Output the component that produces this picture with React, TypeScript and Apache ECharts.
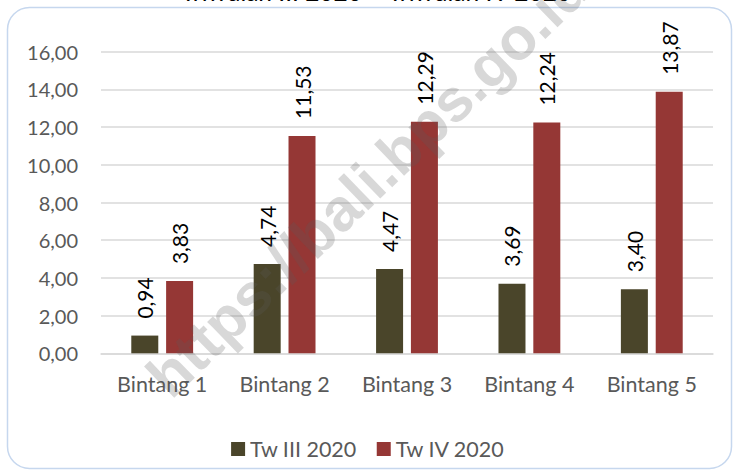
import React, { useEffect, useRef } from "react";
import * as echarts from "echarts";

const categories = ["Bintang 1", "Bintang 2", "Bintang 3", "Bintang 4", "Bintang 5"];
const seriesNames = ["Tw III 2020", "Tw IV 2020"];
const twIII = [0.94, 4.74, 4.47, 3.69, 3.4];
const twIV = [3.83, 11.53, 12.29, 12.24, 13.87];
const yMin = 0;
const yMax = 16;
const yStep = 2;
const titleText = "Triwulan III 2020 – Triwulan IV 2020";
const watermarkText = "https://bali.bps.go.id";

const fmt = (v: number) => v.toFixed(2).replace(".", ",");

export default function App() {
  const ref = useRef<HTMLDivElement>(null);
  useEffect(() => {
    if (!ref.current) return;
    const chart = echarts.init(ref.current, null, { renderer: "svg" });
    const font = "Lato, 'Open Sans', sans-serif";
    const label = {
      show: true,
      position: "top" as const,
      rotate: 90,
      align: "left" as const,
      verticalAlign: "middle" as const,
      distance: 17,
      fontSize: 21,
      fontFamily: font,
      color: "#000000",
      formatter: (p: any) => fmt(p.value),
    };
    chart.setOption({
      animation: false,
      backgroundColor: "#ffffff",
      grid: { left: 101, right: 23, top: 51.7, bottom: 118.7, containLabel: false },
      legend: {
        data: seriesNames,
        top: 433,
        left: "center",
        icon: "rect",
        itemWidth: 14,
        itemHeight: 14,
        itemGap: 20,
        textStyle: { fontSize: 21.5, fontFamily: font, color: "#595959" },
      },
      xAxis: {
        type: "category",
        data: categories,
        axisLine: { show: true, lineStyle: { color: "#d9d9d9", width: 1.5 } },
        axisTick: { show: false },
        axisLabel: { fontSize: 21.5, fontFamily: font, color: "#595959", margin: 20 },
      },
      yAxis: {
        type: "value",
        min: yMin,
        max: yMax,
        interval: yStep,
        axisLine: { show: false },
        axisTick: { show: false },
        splitLine: { lineStyle: { color: "#d9d9d9", width: 1.5 } },
        axisLabel: {
          fontSize: 20,
          fontFamily: font,
          color: "#595959",
          margin: 23,
          formatter: (v: number) => fmt(v),
        },
      },
      series: [
        {
          name: seriesNames[0],
          type: "bar",
          data: twIII,
          barWidth: 27,
          barGap: "29%",
          itemStyle: { color: "#4a452a" },
          label,
        },
        {
          name: seriesNames[1],
          type: "bar",
          data: twIV,
          barWidth: 27,
          barGap: "29%",
          itemStyle: { color: "#953735" },
          label,
        },
      ],
      graphic: [
        {
          type: "rect",
          z: 0,
          silent: true,
          shape: { x: 7.5, y: 7.5, width: 724, height: 461, r: 22 },
          style: { fill: "none", stroke: "#c6d7ee", lineWidth: 1.5 },
        },
        {
          type: "text",
          z: 10,
          silent: true,
          x: 376,
          y: 4,
          style: {
            text: titleText,
            font: `24.5px ${font}`,
            fill: "#000000",
            align: "center",
            verticalAlign: "bottom",
          },
        },
        {
          type: "text",
          z: 100,
          silent: true,
          x: 157,
          y: 386,
          rotation: (44 * Math.PI) / 180,
          style: {
            text: watermarkText,
            font: `bold 60px 'Liberation Sans', Arial, sans-serif`,
            fill: "rgba(90,90,90,0.24)",
            align: "left",
            verticalAlign: "middle",
          },
        },
      ],
    });
    return () => chart.dispose();
  }, []);
  return (
    <div
      ref={ref}
      style={{ position: "fixed", left: 0, top: 0, width: 736, height: 472 }}
    />
  );
}
